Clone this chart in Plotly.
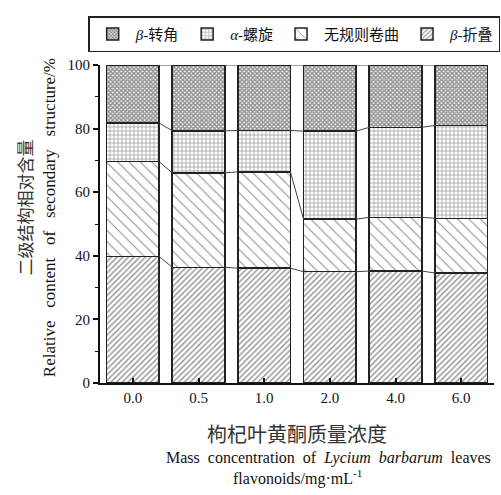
import plotly.graph_objects as go

# Flavonoid concentrations (mg/mL) and secondary-structure fractions (%)
concentrations = ["0.0", "0.5", "1.0", "2.0", "4.0", "6.0"]
beta_sheet = [39.8, 36.4, 36.1, 35.0, 35.2, 34.6]
random_coil = [29.8, 29.7, 30.3, 16.5, 16.9, 17.2]
alpha_helix = [12.2, 13.2, 13.0, 27.7, 28.3, 29.2]
beta_turn = [18.2, 20.7, 20.6, 20.8, 19.6, 19.0]

series = [
    ("<i>β</i>-折叠", beta_sheet, dict(shape="/", size=4, solidity=0.35)),
    ("无规则卷曲", random_coil, dict(shape="\\", size=8, solidity=0.14)),
    ("<i>α</i>-螺旋", alpha_helix, dict(shape="+", size=4, solidity=0.3)),
    ("<i>β</i>-转角", beta_turn, dict(shape="x", size=3, solidity=0.7)),
]

serif = "Liberation Serif, Noto Sans CJK SC"
cjk = "Noto Sans CJK SC"
xs = list(range(len(concentrations)))
bar_w = 0.8

fig = go.Figure()
for name, vals, pat in series:
    fig.add_trace(go.Bar(
        x=xs, y=vals, name=name, width=bar_w,
        marker=dict(color="white", line=dict(color="#222", width=1.5),
                    pattern=dict(fgcolor="#222", bgcolor="white", **pat)),
    ))

# connector lines between neighbouring stacks at every boundary
cum = [0.0] * len(xs)
for _, vals, _ in series:
    cum = [c + v for c, v in zip(cum, vals)]
    cx, cy = [], []
    for i in range(len(xs) - 1):
        cx += [xs[i] + bar_w / 2, xs[i + 1] - bar_w / 2, None]
        cy += [cum[i], cum[i + 1], None]
    fig.add_trace(go.Scatter(x=cx, y=cy, mode="lines", showlegend=False,
                             line=dict(color="#444", width=1), hoverinfo="skip"))

fig.update_layout(
    barmode="stack",
    width=501, height=495,
    margin=dict(l=100, r=7, t=65, b=112),
    plot_bgcolor="white", paper_bgcolor="white",
    font=dict(family=serif, size=15, color="#111"),
    legend=dict(orientation="h", x=-0.03, y=1.04, xanchor="left", yanchor="bottom",
                traceorder="reversed", bordercolor="#222", borderwidth=1.5,
                font=dict(family=serif, size=15), itemwidth=36,
                entrywidth=0, tracegroupgap=0),
    showlegend=True,
)
fig.update_xaxes(
    range=[-0.5, 5.5], tickvals=xs, ticktext=concentrations,
    showline=True, linecolor="#111", linewidth=2,
    ticks="inside", ticklen=5, tickwidth=1.5, tickcolor="#111",
    showgrid=False, zeroline=False, tickfont=dict(size=15),
)
fig.update_yaxes(
    range=[0, 100], tickvals=[0, 20, 40, 60, 80, 100],
    showline=True, linecolor="#111", linewidth=2,
    ticks="outside", ticklen=5, tickwidth=1.5, tickcolor="#111",
    minor=dict(dtick=10, ticks="outside", ticklen=3, tickwidth=1.2, tickcolor="#111"),
    showgrid=False, zeroline=False, tickfont=dict(size=15),
)

# axis titles (Chinese + English)
fig.add_annotation(text="二级结构相对含量", xref="paper", yref="paper",
                   x=0, xshift=-90, y=0.55, textangle=-90, showarrow=False,
                   font=dict(family=cjk, size=17, color="#333"))
fig.add_annotation(text="Relative&nbsp;&nbsp; content&nbsp;&nbsp; of&nbsp;&nbsp; secondary&nbsp;&nbsp; structure/%",
                   xref="paper", yref="paper", x=0, xshift=-62, y=0.52, textangle=-90,
                   showarrow=False, font=dict(family=serif, size=17, color="#111"))
fig.add_annotation(text="枸杞叶黄酮质量浓度", xref="paper", yref="paper",
                   x=0.5, y=-0.158, showarrow=False, yanchor="middle",
                   font=dict(family=cjk, size=20, color="#333"))
fig.add_annotation(text="Mass&nbsp; concentration&nbsp; of&nbsp; <i>Lycium&nbsp; barbarum</i>&nbsp; leaves",
                   xref="paper", yref="paper", x=0.58, y=-0.236, showarrow=False,
                   yanchor="middle", font=dict(family=serif, size=16, color="#111"))
fig.add_annotation(text="flavonoids/mg·mL<sup>-1</sup>", xref="paper", yref="paper",
                   x=0.5, y=-0.296, showarrow=False, yanchor="middle",
                   font=dict(family=serif, size=16, color="#111"))

fig.write_html("out.html")
